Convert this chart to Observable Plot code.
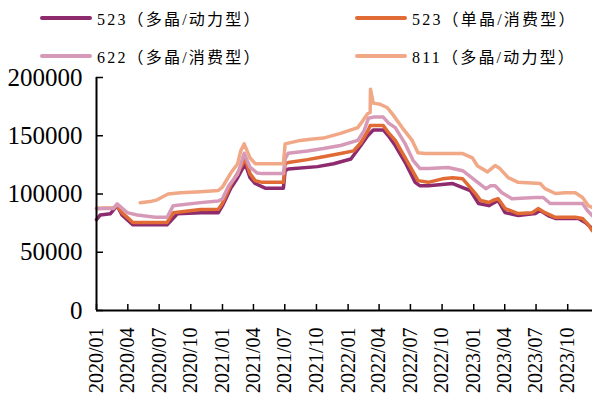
<!DOCTYPE html>
<html><head><meta charset="utf-8">
<script src="https://cdn.jsdelivr.net/npm/d3@7"></script>
<script src="https://cdn.jsdelivr.net/npm/@observablehq/plot@0.6"></script>
<style>
body{margin:0;background:#fff;width:592px;height:403px;overflow:hidden;font-family:"Liberation Serif","Times New Roman","DejaVu Serif","Noto Sans CJK SC",serif}
#legend{position:relative;height:60px;width:592px}
.item{position:absolute;display:flex;align-items:center;font-size:16px;letter-spacing:2.2px;white-space:nowrap;height:20px;color:#000}
.sw{width:52px;height:4px;margin-right:5px;border-radius:2px}
svg text{font-family:"Liberation Serif","Times New Roman","DejaVu Serif",serif !important}
</style></head><body>
<div id="legend"></div><div id="chart"></div>
<script>
const seriesNames = ["523（多晶/动力型）", "523（单晶/消费型）", "622（多晶/消费型）", "811（多晶/动力型）"];
const seriesColors = ["#8E2A6E", "#E06B35", "#D69AB8", "#F0A886"];

const purpleDates = ["2020-01-01","2020-01-12","2020-02-10","2020-03-01","2020-03-15","2020-04-16","2020-07-24","2020-08-23","2020-10-29","2020-12-20","2021-01-01","2021-01-25","2021-02-14","2021-03-08","2021-03-22","2021-04-06","2021-05-05","2021-06-27","2021-07-02","2021-07-11","2021-10-04","2021-11-20","2022-01-09","2022-02-07","2022-02-27","2022-03-15","2022-04-13","2022-04-28","2022-05-18","2022-06-16","2022-07-15","2022-07-29","2022-08-22","2022-11-01","2022-11-30","2022-12-22","2023-01-15","2023-02-14","2023-02-25","2023-03-13","2023-04-02","2023-05-10","2023-06-29","2023-07-13","2023-08-05","2023-08-26","2023-11-01","2023-11-21","2023-12-11"];
const purpleValues = [78000,82000,83000,90000,82000,73500,73500,83000,84000,84000,90000,105000,114000,126000,114000,109000,105000,105000,120000,121500,123500,126000,130000,141600,150000,155000,155000,150000,141600,127000,110000,107000,107000,109000,105500,103000,91800,90000,91800,94400,84000,81500,83200,85800,81500,79000,79000,75500,70400];

const orangeDates = ["2020-01-01","2020-02-19","2020-03-01","2020-03-15","2020-04-16","2020-07-24","2020-08-11","2020-10-29","2020-12-20","2021-01-01","2021-01-25","2021-02-14","2021-03-08","2021-03-22","2021-04-06","2021-04-26","2021-06-27","2021-07-02","2021-07-11","2021-09-05","2021-10-21","2021-12-10","2022-01-17","2022-02-07","2022-02-27","2022-03-06","2022-04-13","2022-04-28","2022-05-18","2022-06-16","2022-07-15","2022-07-23","2022-08-22","2022-10-02","2022-11-01","2022-11-30","2022-12-22","2023-01-06","2023-01-21","2023-02-14","2023-02-25","2023-03-13","2023-04-02","2023-05-10","2023-06-20","2023-07-07","2023-07-27","2023-08-26","2023-10-23","2023-11-13","2023-11-27","2023-12-11"];
const orangeValues = [87500,88000,90000,84000,75500,75500,84000,86700,87000,92000,108000,118000,130000,117500,111500,110000,110000,126000,127000,129500,132000,134700,137000,144000,154000,158700,158700,152700,146000,131000,115800,111500,110000,113000,114000,113000,105500,100400,94400,92700,94400,96000,87500,83200,84000,87500,84000,80000,80000,79000,74600,68600];

const pinkDates = ["2020-01-01","2020-02-19","2020-03-01","2020-03-30","2020-04-28","2020-06-20","2020-07-24","2020-08-11","2020-10-29","2020-12-20","2021-01-01","2021-01-19","2021-02-14","2021-03-05","2021-03-22","2021-04-12","2021-04-26","2021-06-27","2021-07-02","2021-07-11","2021-09-05","2021-10-21","2021-12-10","2022-01-29","2022-02-16","2022-03-01","2022-03-15","2022-04-13","2022-04-28","2022-05-18","2022-06-16","2022-07-09","2022-07-29","2022-08-22","2022-10-19","2022-11-30","2023-01-06","2023-02-05","2023-02-19","2023-03-04","2023-03-24","2023-04-22","2023-06-29","2023-07-22","2023-08-11","2023-11-13","2023-11-27","2023-12-11"];
const pinkValues = [87500,87500,91500,84000,82000,80000,80000,90000,92600,94000,96000,107000,117000,135000,123000,118000,117500,117500,130000,135000,137000,139000,141600,146000,154000,165000,166000,166000,161000,157000,143000,128700,121800,121800,122700,120000,111500,104600,107000,107000,101000,96000,97000,97000,91800,91800,85800,81500];

const peachDates = ["2020-05-07","2020-06-05","2020-06-25","2020-07-27","2020-09-01","2020-10-29","2020-12-20","2021-01-01","2021-01-25","2021-02-14","2021-02-23","2021-03-05","2021-03-22","2021-04-06","2021-06-27","2021-07-02","2021-08-15","2021-09-14","2021-10-21","2021-12-10","2022-01-29","2022-02-13","2022-02-27","2022-03-06","2022-03-07","2022-03-15","2022-04-04","2022-04-25","2022-05-09","2022-06-07","2022-07-06","2022-07-23","2022-08-13","2022-11-30","2022-12-28","2023-01-12","2023-02-10","2023-03-04","2023-03-18","2023-04-11","2023-05-10","2023-07-13","2023-07-27","2023-08-26","2023-09-24","2023-10-23","2023-11-13","2023-11-30","2023-12-11"];
const peachValues = [92400,93500,95000,100000,101000,102000,103000,106000,118000,126000,137000,143000,131000,126000,126000,143000,146000,147000,148000,152000,157000,163000,169000,170000,190000,178000,177000,174000,169000,157000,146000,135500,134700,134700,131000,124000,119000,124400,121800,114000,110000,109000,104600,100400,101000,101000,97000,90000,88400];

const xTickLabels = ["2020/01","2020/04","2020/07","2020/10","2021/01","2021/04","2021/07","2021/10","2022/01","2022/04","2022/07","2022/10","2023/01","2023/04","2023/07","2023/10"];
const yTicks = [0, 50000, 100000, 150000, 200000];

const parse = d3.utcParse("%Y-%m-%d");
const xTicks = xTickLabels.map(s => d3.utcParse("%Y/%m")(s));
const xDomain = [parse("2020-01-01"), parse("2023-12-12")];

const allDates = [purpleDates, orangeDates, pinkDates, peachDates];
const allValues = [purpleValues, orangeValues, pinkValues, peachValues];
const series = allDates.map((ds, i) => ds.map((d, j) => ({date: parse(d), value: allValues[i][j]})));

// legend
const legend = document.getElementById("legend");
const legendPos = [[40, 8], [355, 8], [40, 46], [355, 46]];
seriesNames.forEach((name, i) => {
  const it = document.createElement("div");
  it.className = "item";
  it.style.left = legendPos[i][0] + "px";
  it.style.top = legendPos[i][1] + "px";
  it.innerHTML = `<span class="sw" style="background:${seriesColors[i]}"></span><span>${name}</span>`;
  legend.appendChild(it);
});

const chart = Plot.plot({
  width: 592, height: 343,
  marginLeft: 96, marginRight: 0, marginTop: 17, marginBottom: 93,
  x: {type: "utc", domain: xDomain, label: null},
  y: {domain: [0, 200000], label: null},
  style: {fontFamily: "'Liberation Serif', 'Times New Roman', serif", color: "#000", background: "#fff"},
  marks: [
    Plot.axisY({ticks: yTicks, tickSize: 0, tickPadding: 14, fontSize: 25, tickFormat: d => String(d), label: null}),
    Plot.axisY({ticks: yTicks, tickSize: -7, text: null, strokeWidth: 1.5, label: null}),
    Plot.axisX({ticks: xTicks, tickSize: 0, tickPadding: 17, tickRotate: -90, fontSize: 20, tickFormat: d3.utcFormat("%Y/%m"), label: null}),
    Plot.axisX({ticks: xTicks, tickSize: -6, text: null, strokeWidth: 1.5, label: null}),
    ...series.map((s, i) => Plot.line(s, {x: "date", y: "value", stroke: seriesColors[i], strokeWidth: 3.5})),
    Plot.ruleX([xDomain[0]], {strokeWidth: 2}),
    Plot.ruleY([0], {strokeWidth: 2})
  ]
});
document.getElementById("chart").appendChild(chart);
</script>
</body></html>
